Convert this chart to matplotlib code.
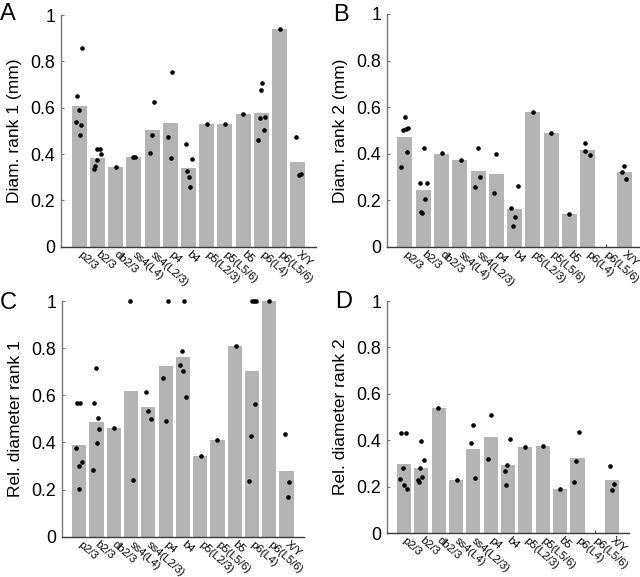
import matplotlib
matplotlib.use("Agg")
import matplotlib.pyplot as plt

plt.rcParams['font.family'] = ['Liberation Sans', 'DejaVu Sans']

categories = ['p2/3', 'b2/3', 'db2/3', 'ss4(L4)', 'ss4(L2/3)', 'p4', 'b4',
              'p5(L2/3)', 'p5(L5/6)', 'b5', 'p6(L4)', 'p6(L5/6)', 'X/Y']
yticks = [0, 0.2, 0.4, 0.6, 0.8, 1]
ytick_labels = ['0', '0.2', '0.4', '0.6', '0.8', '1']

# Panel A: Diam. rank 1 (mm)
a_bars = [0.609, 0.381, 0.342, 0.386, 0.504, 0.535, 0.341, 0.528, 0.528, 0.573, 0.577, 0.94, 0.367]
a_dots = [[0.856, 0.65, 0.59, 0.538, 0.525, 0.483],
          [0.42, 0.42, 0.398, 0.374, 0.35, 0.337],
          [0.345],
          [0.386, 0.386],
          [0.623, 0.483, 0.403],
          [0.753, 0.472, 0.383],
          [0.442, 0.377, 0.328, 0.302, 0.259],
          [0.528],
          [0.528],
          [0.573],
          [0.708, 0.676, 0.561, 0.554, 0.504, 0.46],
          [0.94],
          [0.475, 0.31, 0.315]]
a_jit = [[0.17, -0.12, -0.03, -0.19, 0.08, 0.03],
         [0.0, 0.13, 0.18, -0.04, -0.13, -0.18],
         [0.0],
         [-0.06, 0.09],
         [0.12, 0.0, -0.12],
         [0.11, -0.11, 0.02],
         [-0.16, 0.17, -0.08, 0.0, 0.08],
         [0.0],
         [0.0],
         [0.0],
         [0.05, 0.0, 0.21, -0.1, 0.12, -0.17],
         [0.0],
         [-0.12, 0.04, 0.17]]

# Panel B: Diam. rank 2 (mm)
b_bars = [0.47, 0.242, 0.40, 0.371, 0.327, 0.314, 0.16, 0.579, 0.487, 0.139, 0.417, 0.0, 0.319]
b_dots = [[0.556, 0.50, 0.505, 0.508, 0.407, 0.341],
          [0.423, 0.274, 0.274, 0.205, 0.15, 0.143],
          [0.401],
          [0.372],
          [0.425, 0.301, 0.256],
          [0.397, 0.229],
          [0.262, 0.165, 0.128, 0.089],
          [0.579],
          [0.487],
          [0.139],
          [0.447, 0.411, 0.395],
          [],
          [0.347, 0.322, 0.292]]
b_jit = [[0.0, -0.12, 0.05, 0.19, 0.12, -0.19],
         [0.05, -0.19, 0.18, 0.12, -0.1, -0.06],
         [0.0],
         [0.09],
         [0.0, 0.13, -0.14],
         [0.0, -0.14],
         [0.16, -0.19, 0.0, -0.1],
         [0.0],
         [0.0],
         [0.0],
         [-0.17, -0.14, 0.1],
         [],
         [0.0, -0.13, 0.1]]

# Panel C: Rel. diameter rank 1
c_bars = [0.388, 0.487, 0.46, 0.62, 0.549, 0.723, 0.762, 0.341, 0.41, 0.809, 0.703, 1.0, 0.279]
c_dots = [[0.566, 0.566, 0.376, 0.30, 0.317, 0.201],
          [0.717, 0.566, 0.502, 0.457, 0.397, 0.284],
          [0.461],
          [1.0, 0.24],
          [0.614, 0.532, 0.499],
          [1.0, 0.674, 0.492],
          [1.0, 0.788, 0.73, 0.703, 0.591],
          [0.341],
          [0.41],
          [0.807],
          [1.0, 1.0, 1.0, 0.562, 0.426, 0.235],
          [1.0],
          [0.436, 0.233, 0.17]]
c_jit = [[-0.13, 0.05, -0.2, -0.03, 0.14, 0.0],
         [-0.06, -0.12, 0.09, 0.17, 0.0, -0.2],
         [0.0],
         [-0.06, 0.1],
         [-0.11, 0.0, 0.14],
         [0.16, -0.16, 0.0],
         [0.09, -0.06, -0.14, 0.01, 0.19],
         [0.06],
         [0.0],
         [0.06],
         [0.0, 0.11, 0.22, 0.2, -0.06, -0.17],
         [0.0],
         [-0.08, 0.17, 0.06]]

# Panel D: Rel. diameter rank 2
d_bars = [0.297, 0.281, 0.538, 0.23, 0.364, 0.413, 0.294, 0.37, 0.374, 0.189, 0.325, 0.0, 0.228]
d_dots = [[0.433, 0.433, 0.281, 0.234, 0.208, 0.188],
          [0.397, 0.313, 0.281, 0.242, 0.228, 0.22],
          [0.538],
          [0.228],
          [0.465, 0.386, 0.238],
          [0.508, 0.321],
          [0.407, 0.294, 0.267, 0.208],
          [0.37],
          [0.374],
          [0.189],
          [0.437, 0.31, 0.221],
          [],
          [0.29, 0.21, 0.184]]
d_jit = [[-0.15, 0.1, -0.06, -0.21, 0.0, 0.17],
         [0.0, 0.15, -0.06, 0.06, -0.21, -0.13],
         [-0.04],
         [0.08],
         [0.0, -0.15, 0.08],
         [0.0, -0.13],
         [0.13, -0.04, -0.19, -0.12],
         [0.0],
         [0.0],
         [0.0],
         [0.1, -0.08, -0.19],
         [],
         [-0.14, 0.12, 0.0]]

W, H = 640, 577
fig = plt.figure(figsize=(W / 100, H / 100), dpi=100)

BAR_COLOR = '#b4b4b4'


def make_panel(rect_px, bars, dots, jit, ylabel, letter, letter_xy):
    x0, ytop, x1, ybot = rect_px
    ax = fig.add_axes([x0 / W, 1 - ybot / H, (x1 - x0) / W, (ybot - ytop) / H])
    xs = list(range(1, len(categories) + 1))
    ax.bar(xs, bars, width=0.82, color=BAR_COLOR, edgecolor='none', zorder=1)
    for i, (vals, offs) in enumerate(zip(dots, jit)):
        ax.plot([xs[i] + o for o in offs], vals, 'o', color='black',
                markersize=3.3, markeredgewidth=0, zorder=3, clip_on=False)
    ax.set_xlim(0, 14)
    ax.set_ylim(0, 1)
    ax.set_axisbelow(True)
    for s in ('top', 'right'):
        ax.spines[s].set_visible(False)
    ax.spines['left'].set_color('#777777')
    ax.spines['left'].set_linewidth(1.0)
    ax.spines['bottom'].set_color('#3a3a3a')
    ax.spines['bottom'].set_linewidth(1.0)
    ax.set_yticks(yticks)
    ax.set_yticklabels(ytick_labels, fontsize=12.8)
    ax.tick_params(axis='y', direction='in', length=2.5, width=0.8,
                   color='#777777', pad=4)
    ax.set_xticks(xs)
    ax.set_xticklabels(categories, fontsize=8.1, rotation=-42,
                       ha='left', va='center', rotation_mode='anchor')
    ax.tick_params(axis='x', direction='in', length=2, width=0.8,
                   color='#333333', pad=4.5)
    ax.set_ylabel(ylabel, fontsize=12.5, labelpad=6)
    fig.text(letter_xy[0] / W, 1 - letter_xy[1] / H, letter, fontsize=17,
             ha='left', va='baseline')
    return ax


make_panel((61, 15, 316, 246.7), a_bars, a_dots, a_jit,
           'Diam. rank 1 (mm)', 'A', (0, 20))
make_panel((386.7, 14, 642.5, 246.7), b_bars, b_dots, b_jit,
           'Diam. rank 2 (mm)', 'B', (333, 21))
make_panel((62, 301, 303.8, 536.7), c_bars, c_dots, c_jit,
           'Rel. diameter rank 1', 'C', (0, 309))
make_panel((386.7, 301, 629.4, 533), d_bars, d_dots, d_jit,
           'Rel. diameter rank 2', 'D', (335, 308))

fig.savefig('out.png', dpi=100)
